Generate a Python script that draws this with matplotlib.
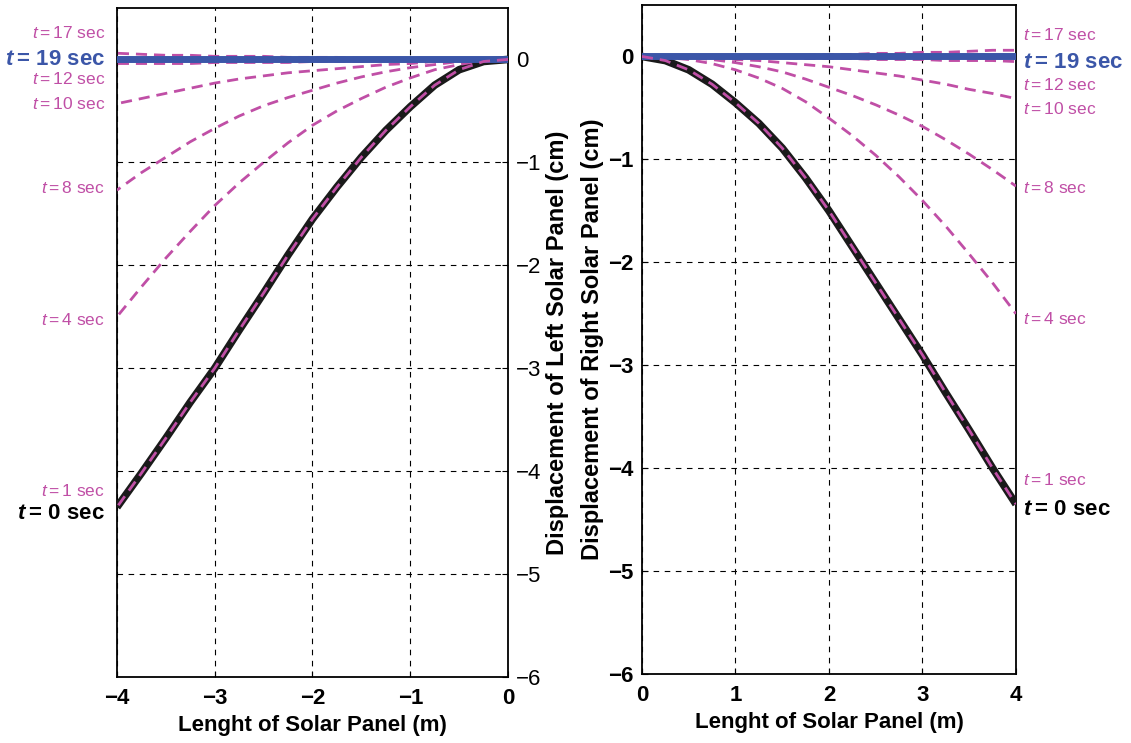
import matplotlib.pyplot as plt

plt.rcParams['font.family'] = ['Liberation Sans', 'DejaVu Sans']
plt.rcParams['mathtext.fontset'] = 'custom'
plt.rcParams['mathtext.rm'] = 'Liberation Sans'
plt.rcParams['mathtext.it'] = 'Liberation Sans:italic'
plt.rcParams['mathtext.bf'] = 'Liberation Sans:bold'
plt.rcParams['mathtext.bfit'] = 'Liberation Sans:bold:italic'

# panel length grid (m)
x_right = [0, 0.25, 0.5, 0.75, 1.0, 1.25, 1.5, 1.75, 2.0, 2.25, 2.5, 2.75, 3.0, 3.25, 3.5, 3.75, 4.0]
x_left = [-v for v in x_right]

# displacement (cm) of the left panel, from tip (x=0) out to x=-4
left_curves = {
    't0':  [0, -0.02, -0.10, -0.25, -0.46, -0.69, -0.95, -1.24, -1.55, -1.90, -2.27, -2.63, -3.00, -3.33, -3.68, -4.02, -4.35],
    't1':  [0, -0.02, -0.10, -0.25, -0.46, -0.69, -0.95, -1.24, -1.55, -1.90, -2.27, -2.63, -3.00, -3.33, -3.68, -4.02, -4.35],
    't4':  [0, -0.01, -0.05, -0.10, -0.18, -0.27, -0.38, -0.50, -0.64, -0.81, -1.00, -1.20, -1.42, -1.67, -1.93, -2.21, -2.50],
    't8':  [0, -0.01, -0.02, -0.05, -0.08, -0.12, -0.17, -0.23, -0.30, -0.37, -0.45, -0.55, -0.67, -0.80, -0.95, -1.10, -1.27],
    't10': [0, 0, -0.01, -0.02, -0.04, -0.05, -0.07, -0.09, -0.11, -0.13, -0.16, -0.19, -0.23, -0.28, -0.33, -0.38, -0.43],
    't12': [0, 0, 0, -0.01, -0.01, -0.01, -0.02, -0.02, -0.02, -0.03, -0.03, -0.03, -0.03, -0.04, -0.04, -0.04, -0.04],
    't17': [0, 0, 0, 0.01, 0.01, 0.01, 0.01, 0.02, 0.02, 0.02, 0.03, 0.03, 0.03, 0.04, 0.04, 0.05, 0.06],
    't19': [0, 0, 0, 0, 0, 0, 0, 0, 0, 0, 0, 0, 0, 0, 0, 0, 0],
}
# displacement (cm) of the right panel
right_curves = {
    't0':  [0, -0.04, -0.13, -0.27, -0.45, -0.65, -0.89, -1.18, -1.50, -1.85, -2.20, -2.55, -2.90, -3.27, -3.63, -4.00, -4.35],
    't1':  [0, -0.04, -0.13, -0.27, -0.45, -0.65, -0.89, -1.18, -1.50, -1.85, -2.20, -2.55, -2.90, -3.27, -3.63, -4.00, -4.35],
    't4':  [0, -0.01, -0.03, -0.07, -0.13, -0.21, -0.31, -0.44, -0.60, -0.77, -0.96, -1.17, -1.40, -1.65, -1.92, -2.20, -2.50],
    't8':  [0, 0, -0.01, -0.03, -0.06, -0.10, -0.15, -0.22, -0.30, -0.38, -0.47, -0.57, -0.68, -0.81, -0.95, -1.10, -1.26],
    't10': [0, 0, 0, -0.01, -0.03, -0.04, -0.06, -0.08, -0.10, -0.13, -0.16, -0.19, -0.23, -0.27, -0.32, -0.36, -0.41],
    't12': [0, 0, 0, 0, -0.01, -0.01, -0.01, -0.02, -0.02, -0.02, -0.03, -0.03, -0.03, -0.04, -0.04, -0.04, -0.05],
    't17': [0, 0, 0, 0, 0.01, 0.01, 0.01, 0.01, 0.02, 0.02, 0.03, 0.03, 0.04, 0.04, 0.05, 0.06, 0.06],
    't19': [0, 0, 0, 0, 0, 0, 0, 0, 0, 0, 0, 0, 0, 0, 0, 0, 0],
}

# label texts and their heights (data y) beside each panel
label_keys = ['t17', 't19', 't12', 't10', 't8', 't4', 't1', 't0']
label_text = {'t17': r'$t = 17$ sec', 't19': r'$\mathbfit{t}\mathbf{=}\,\mathbf{19\ sec}$', 't12': r'$t = 12$ sec',
              't10': r'$t = 10$ sec', 't8': r'$t = 8$ sec', 't4': r'$t = 4$ sec',
              't1': r'$t = 1$ sec', 't0': r'$\mathbfit{t}\mathbf{=}\,\mathbf{0\ sec}$'}
left_label_y = [0.26, 0.0, -0.19, -0.43, -1.25, -2.53, -4.19, -4.41]
right_label_y = [0.21, -0.06, -0.28, -0.51, -1.28, -2.55, -4.11, -4.40]

magenta = '#C04FA6'
blue = '#3B56A8'


def draw(ax, x, curves):
    ax.plot(x, curves['t0'], color='#1a1a1a', lw=5.5, solid_capstyle='butt', zorder=3)
    for k in ['t4', 't8', 't10', 't12', 't17']:
        ax.plot(x, curves[k], color=magenta, lw=2, dashes=(4, 2.5), zorder=4)
    ax.plot(x, curves['t19'], color=blue, lw=5, zorder=5)
    ax.plot(x, curves['t1'], color=magenta, lw=2, dashes=(4, 2.5), zorder=6)
    ax.set_ylim(-6, 0.5)
    ax.set_yticks([0, -1, -2, -3, -4, -5, -6])
    ax.grid(True, color='black', ls=(0, (5, 5)), lw=0.8)
    ax.tick_params(direction='in', labelsize=16, length=4)
    ax.tick_params(axis='x', pad=8)
    ax.tick_params(axis='y', pad=6)
    for lab in ax.get_xticklabels() + ax.get_yticklabels():
        lab.set_fontweight('bold')
    for s in ax.spines.values():
        s.set_linewidth(1.3)
    ax.set_xlabel('Lenght of Solar Panel (m)', fontsize=16, fontweight='bold', labelpad=4)


fig = plt.figure(figsize=(11.31, 7.43), dpi=100)
ax1 = fig.add_axes([0.1034, 0.0888, 0.3458, 0.9005])
ax2 = fig.add_axes([0.5676, 0.0928, 0.3307, 0.9005])

draw(ax1, x_left, left_curves)
ax1.set_xlim(-4, 0)
ax1.set_xticks([-4, -3, -2, -1, 0])
ax1.yaxis.tick_right()
ax1.yaxis.set_label_position('right')
ax1.set_ylabel('Displacement of Left Solar Panel (cm)', fontsize=17, fontweight='bold', labelpad=3)

draw(ax2, x_right, right_curves)
ax2.set_xlim(0, 4)
ax2.set_xticks([0, 1, 2, 3, 4])
ax2.set_ylabel('Displacement of Right Solar Panel (cm)', fontsize=17, fontweight='bold', labelpad=3)

for ax, ys, xa, ha in [(ax1, left_label_y, -0.03, 'right'), (ax2, right_label_y, 1.02, 'left')]:
    for k, y in zip(label_keys, ys):
        if k == 't19':
            col, fs = blue, 16
        elif k == 't0':
            col, fs = 'black', 16
        else:
            col, fs = magenta, 12.5
        ax.text(xa, y, label_text[k], color=col, fontsize=fs, ha=ha, va='center',
                transform=ax.get_yaxis_transform(), clip_on=False)

fig.savefig('out.png', dpi=100)
